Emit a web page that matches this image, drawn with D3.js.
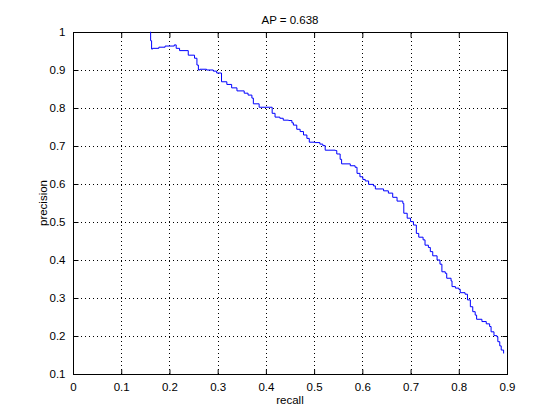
<!DOCTYPE html>
<html lang="en">
<head>
  <meta charset="UTF-8">
  <script src="https://d3js.org/d3.v7.min.js"></script>
  <style>
    body { margin: 0; background: #fff; }
    svg { display: block; }
    text { font-family: "Liberation Sans", Arial, sans-serif; font-size: 11.5px; fill: #000; }
  </style>
</head>
<body>
  <script>
    const width = 560;
    const height = 420;
    const margin = { top: 32, right: 53, bottom: 46, left: 73 };

    const title = "AP = 0.638";
    const xLabel = "recall";
    const yLabel = "precision";
    const xTicks = [0, 0.1, 0.2, 0.3, 0.4, 0.5, 0.6, 0.7, 0.8, 0.9];
    const yTicks = [0.1, 0.2, 0.3, 0.4, 0.5, 0.6, 0.7, 0.8, 0.9, 1];

    // precision / recall curve
    const recall = [
      0.160, 0.161, 0.163, 0.165, 0.178, 0.191, 0.210, 0.214, 0.221, 0.239,
      0.252, 0.257, 0.260, 0.263, 0.277, 0.291, 0.298, 0.308, 0.319, 0.329,
      0.340, 0.355, 0.363, 0.371, 0.374, 0.386, 0.413, 0.419, 0.429, 0.436,
      0.447, 0.454, 0.457, 0.464, 0.471, 0.478, 0.485, 0.490, 0.502, 0.512,
      0.518, 0.523, 0.544, 0.547, 0.554, 0.557, 0.575, 0.585, 0.589, 0.595,
      0.601, 0.606, 0.613, 0.623, 0.627, 0.644, 0.654, 0.663, 0.672, 0.684,
      0.686, 0.693, 0.700, 0.706, 0.712, 0.717, 0.726, 0.730, 0.737, 0.741,
      0.746, 0.755, 0.761, 0.765, 0.772, 0.775, 0.784, 0.786, 0.793, 0.800,
      0.803, 0.813, 0.818, 0.824, 0.829, 0.834, 0.837, 0.848, 0.857, 0.864,
      0.867, 0.873, 0.879, 0.881, 0.885, 0.888, 0.893
    ];
    const precision = [
      1.000, 0.977, 0.955, 0.957, 0.960, 0.963, 0.966, 0.957, 0.951, 0.939,
      0.931, 0.913, 0.900, 0.902, 0.900, 0.897, 0.892, 0.869, 0.862, 0.853,
      0.845, 0.839, 0.834, 0.826, 0.811, 0.802, 0.786, 0.776, 0.773, 0.768,
      0.767, 0.761, 0.755, 0.744, 0.738, 0.729, 0.720, 0.710, 0.709, 0.705,
      0.701, 0.689, 0.688, 0.679, 0.665, 0.653, 0.648, 0.644, 0.628, 0.619,
      0.612, 0.608, 0.599, 0.595, 0.587, 0.582, 0.576, 0.565, 0.555, 0.549,
      0.523, 0.510, 0.501, 0.492, 0.470, 0.460, 0.453, 0.439, 0.433, 0.422,
      0.411, 0.400, 0.389, 0.369, 0.365, 0.352, 0.345, 0.330, 0.326, 0.323,
      0.314, 0.310, 0.295, 0.277, 0.264, 0.255, 0.244, 0.238, 0.232, 0.225,
      0.211, 0.201, 0.198, 0.185, 0.174, 0.163, 0.154
    ];

    const x = d3.scaleLinear().domain([0, 0.9]).range([margin.left, width - margin.right]);
    const y = d3.scaleLinear().domain([0.1, 1]).range([height - margin.bottom, margin.top]);

    const svg = d3.select("body").append("svg")
      .attr("width", width)
      .attr("height", height);

    const x0 = margin.left, x1 = width - margin.right;
    const y0 = height - margin.bottom, y1 = margin.top;
    const tickLen = 5;

    // dotted grid
    const grid = svg.append("g")
      .attr("stroke", "#000")
      .attr("stroke-width", 1)
      .attr("stroke-dasharray", "1,3");
    grid.selectAll(".gx").data(xTicks.slice(1)).enter().append("line")
      .attr("x1", d => Math.round(x(d)) + 0.5).attr("x2", d => Math.round(x(d)) + 0.5)
      .attr("y1", y0).attr("y2", y1);
    grid.selectAll(".gy").data(yTicks.slice(0, -1)).enter().append("line")
      .attr("y1", d => Math.round(y(d)) + 0.5).attr("y2", d => Math.round(y(d)) + 0.5)
      .attr("x1", x0).attr("x2", x1);

    // axes with inward ticks on all four sides
    const fmt = d => d === 0 || d === 1 ? String(d) : d3.format(".1f")(d);

    const gxB = svg.append("g").attr("transform", `translate(0,${y0 + 0.5})`)
      .call(d3.axisBottom(x).tickValues(xTicks).tickFormat(fmt).tickSizeInner(-tickLen).tickSizeOuter(0).tickPadding(8));
    const gxT = svg.append("g").attr("transform", `translate(0,${y1 + 0.5})`)
      .call(d3.axisTop(x).tickValues(xTicks).tickFormat("").tickSizeInner(-tickLen).tickSizeOuter(0));
    const gyL = svg.append("g").attr("transform", `translate(${x0 + 0.5},0)`)
      .call(d3.axisLeft(y).tickValues(yTicks).tickFormat(fmt).tickSizeInner(-tickLen).tickSizeOuter(0).tickPadding(8));
    const gyR = svg.append("g").attr("transform", `translate(${x1 + 0.5},0)`)
      .call(d3.axisRight(y).tickValues(yTicks).tickFormat("").tickSizeInner(-tickLen).tickSizeOuter(0));

    [gxB, gxT, gyL, gyR].forEach(g => {
      g.select(".domain").remove();
      g.selectAll("line").attr("stroke", "#000");
      g.selectAll("text").attr("font-family", null).attr("font-size", null).style("fill", "#000");
    });

    svg.append("rect")
      .attr("x", x0 + 0.5).attr("y", y1 + 0.5)
      .attr("width", x1 - x0).attr("height", y0 - y1)
      .attr("fill", "none").attr("stroke", "#000");

    // PR curve
    const pts = recall.map((r, i) => [r, precision[i]]);
    svg.append("path")
      .datum(pts)
      .attr("fill", "none")
      .attr("stroke", "#0000ff")
      .attr("stroke-width", 1)
      .attr("d", d3.line().x(d => x(d[0])).y(d => y(d[1])).curve(d3.curveStepAfter));

    // labels
    svg.append("text").attr("x", (x0 + x1) / 2).attr("y", 24)
      .attr("text-anchor", "middle").text(title);
    svg.append("text").attr("x", (x0 + x1) / 2).attr("y", 404)
      .attr("text-anchor", "middle").text(xLabel);
    svg.append("text")
      .attr("transform", `translate(47,${(y0 + y1) / 2}) rotate(-90)`)
      .attr("text-anchor", "middle").text(yLabel);
  </script>
</body>
</html>
